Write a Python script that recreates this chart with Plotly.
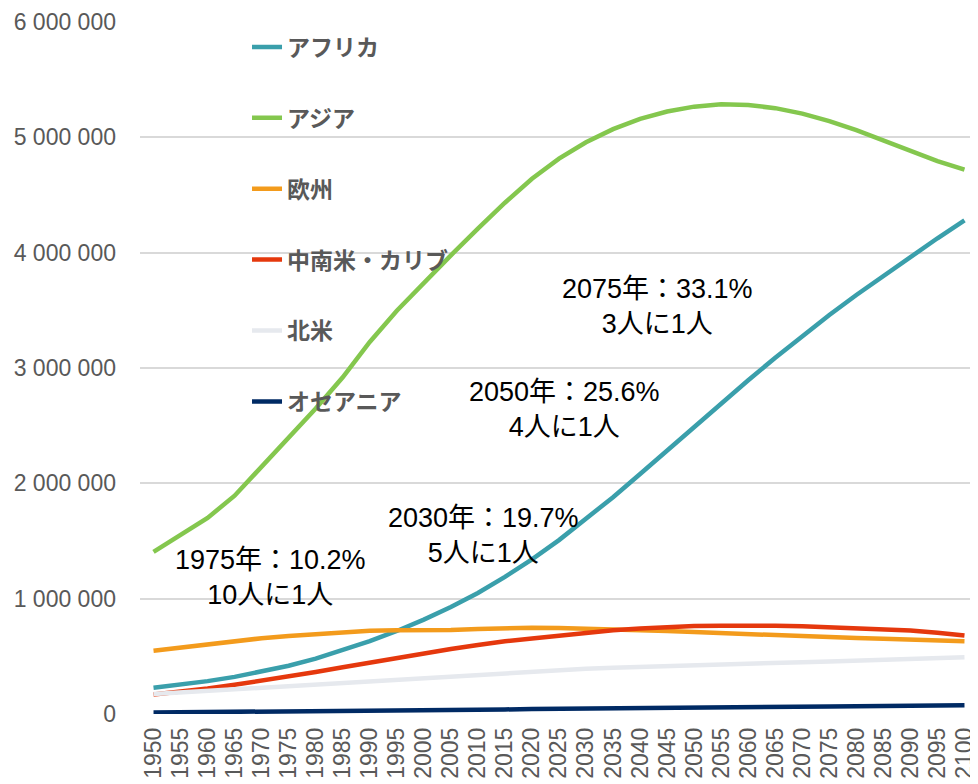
import plotly.graph_objects as go

years = list(range(1950, 2101, 5))

africa = [228, 254, 285, 322, 366, 418, 480, 551, 632, 720, 818, 927, 1049, 1189, 1341,
          1508, 1688, 1880, 2081, 2286, 2489, 2692, 2894, 3089, 3278, 3460, 3633, 3800,
          3965, 4125, 4280]
asia = [1405, 1553, 1700, 1893, 2142, 2397, 2649, 2919, 3226, 3497, 3741, 3977, 4209, 4433,
        4641, 4815, 4957, 5071, 5160, 5224, 5266, 5286, 5280, 5253, 5206, 5141, 5062, 4973,
        4880, 4793, 4720]
europe = [549, 577, 606, 635, 657, 677, 694, 708, 721, 727, 726, 729, 736, 743, 748, 746,
          741, 736, 729, 720, 710, 700, 690, 680, 672, 665, 659, 652, 645, 637, 630]
latam = [169, 193, 221, 253, 288, 326, 364, 405, 446, 487, 526, 563, 598, 631, 654, 680,
         706, 727, 741, 754, 762, 766, 768, 766, 761, 754, 746, 735, 724, 705, 680]
n_america = [173, 187, 204, 219, 231, 242, 254, 267, 280, 296, 312, 327, 343, 357, 369, 381,
             392, 402, 410, 418, 425, 431, 437, 443, 449, 455, 462, 468, 475, 484, 491]
oceania = [12.9, 14.3, 15.9, 17.6, 19.7, 21.3, 22.9, 24.8, 27.0, 29.1, 31.4, 33.6, 37.1,
           39.6, 42.7, 45.6, 48.2, 50.7, 53.0, 55.1, 57.1, 59.0, 60.8, 62.5, 64.1, 65.6,
           67.0, 68.3, 69.4, 71.0, 74.9]

series_names = ["アフリカ", "アジア", "欧州", "中南米・カリブ", "北米", "オセアニア"]
series_values = [africa, asia, europe, latam, n_america, oceania]
series_colors = ["#3A9FAB", "#84C74E", "#F39B1C", "#E5380D", "#E6E9EE", "#002A64"]

y_tickvals = [0, 1000000, 2000000, 3000000, 4000000, 5000000, 6000000]
y_ticktext = ["0", "1 000 000", "2 000 000", "3 000 000", "4 000 000", "5 000 000", "6 000 000"]

notes = [
    ("1975年：10.2%<br>10人に1人", 1971.6, 1180000),
    ("2030年：19.7%<br>5人に1人", 2011.1, 1550000),
    ("2050年：25.6%<br>4人に1人", 2026.1, 2640000),
    ("2075年：33.1%<br>3人に1人", 2043.3, 3530000),
]

fig = go.Figure()
for i, (name, vals, col) in enumerate(zip(series_names, series_values, series_colors)):
    fig.add_trace(go.Scatter(
        x=years, y=[v * 1000 for v in vals], mode="lines", name=name,
        legendgroup=f"g{i}",
        line=dict(color=col, width=4.5),
    ))

for text, x, y in notes:
    fig.add_annotation(x=x, y=y, text=text, showarrow=False, xref="x", yref="y",
                       font=dict(family="Liberation Sans, Arial, Noto Sans CJK JP", size=27,
                                 color="#000000"),
                       align="center")

fig.update_layout(
    width=970, height=776,
    margin=dict(l=132, r=0, t=14, b=70),
    paper_bgcolor="white", plot_bgcolor="white",
    showlegend=True,
    legend=dict(
        x=0.1277, y=0.995, xanchor="left", yanchor="top",
        bgcolor="rgba(0,0,0,0)",
        font=dict(family="Noto Sans CJK JP", size=23, color="#595959", weight="bold"),
        tracegroupgap=38, traceorder="grouped",
    ),
    xaxis=dict(
        range=[1947.5, 2102.5], tickvals=years, ticktext=[str(y) for y in years],
        tickangle=-90, showgrid=False, zeroline=False, showline=False,
        ticks="", ticklabelstandoff=8,
        tickfont=dict(family="Liberation Sans, Arial", size=23, color="#595959"),
    ),
    yaxis=dict(
        range=[0, 6000000], tickvals=y_tickvals, ticktext=y_ticktext,
        showgrid=True, gridcolor="#D9D9D9", gridwidth=1.5, zeroline=False,
        showline=False, ticks="", ticklabelstandoff=23,
        tickfont=dict(family="Liberation Sans, Arial", size=23, color="#595959"),
    ),
)

fig.write_html("out.html")
